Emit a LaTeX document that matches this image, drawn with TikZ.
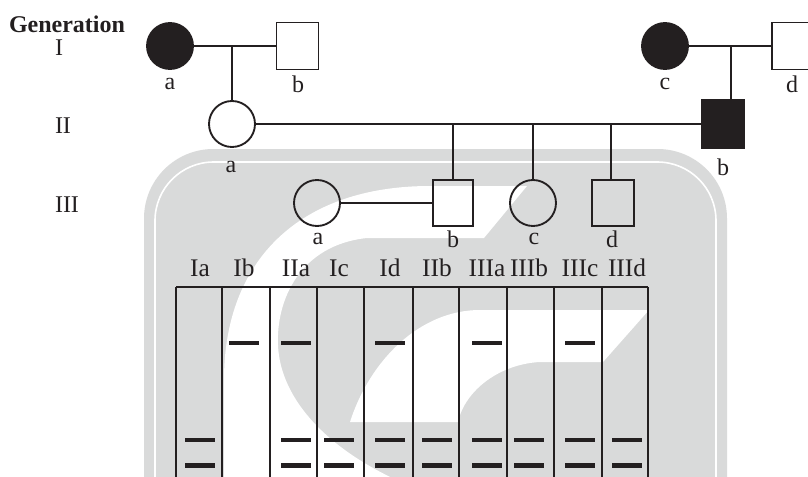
\documentclass[tikz,border=0pt]{standalone}
\usepackage{fontspec}
\setmainfont{Liberation Serif}
\definecolor{ink}{RGB}{35,31,32}
\definecolor{wm}{RGB}{217,218,218}
\begin{document}
\begin{tikzpicture}[x=0.75pt,y=-0.75pt,
  ped/.style={draw=ink,line width=1.4pt,inner sep=0pt,outer sep=0pt},
  fem/.style={ped,circle,minimum size=34.5pt},
  mal/.style={ped,rectangle,minimum width=31.5pt,minimum height=35.25pt},
  aff/.style={fill=ink},
  unaff/.style={fill=none},
  lbl/.style={font=\fontsize{18}{20}\selectfont,text=ink,inner sep=0pt,anchor=base},
  lanelbl/.style={font=\fontsize{19}{21}\selectfont,text=ink,inner sep=0pt,anchor=base},
  link/.style={draw=ink,line width=1.4pt},
  gel/.style={draw=ink,line width=1.5pt},
  band/.style={draw=ink,line width=3.6pt},
]
\useasboundingbox (0,0) rectangle (808,476);
% watermark
\fill[wm,rounded corners=52pt] (144,600) rectangle (727,149);
\draw[white,line width=1.2pt,rounded corners=44pt] (155,600) rectangle (716,162);
\fill[white] (224,490) -- (224,380) .. controls (224,260) and (300,186) .. (430,186) -- (527,186) -- (484,238) -- (367,238) .. controls (300,245) and (276,300) .. (278,345) .. controls (280,400) and (330,455) .. (420,490) -- cycle;
\fill[white] (350,422) .. controls (370,360) and (420,310) .. (480,310) -- (649,310) -- (603,362) -- (540,362) .. controls (500,364) and (465,390) .. (458,422) -- cycle;
% generation labels
\node[font=\bfseries\fontsize{18}{20}\selectfont,text=ink,inner sep=0pt,anchor=base] (gen) at (67,32) {Generation};
\node[lbl] (gI) at (59,55) {I};
\node[lbl] (gII) at (63,133) {II};
\node[lbl] (gIII) at (67,212) {III};
% generation I
\node[fem,aff] (Ia) at (170,46) {};
\node[mal,unaff] (Ib) at (297.5,46) {};
\node[fem,aff] (Ic) at (665,46) {};
\node[mal,unaff] (Id) at (793,46) {};
% generation II
\node[fem,unaff] (IIa) at (232,124) {};
\node[mal,aff,minimum height=36pt] (IIb) at (723,124) {};
% generation III
\node[fem,unaff] (IIIa) at (317,203) {};
\node[mal,unaff,minimum width=30pt,minimum height=34.5pt] (IIIb) at (453,203) {};
\node[fem,unaff] (IIIc) at (533,203) {};
\node[mal,unaff,minimum width=31.5pt,minimum height=34.5pt] (IIId) at (613,203) {};
% connectors
\draw[link] (Ia) -- (Ib);
\coordinate (m1) at (232,46);
\draw[link] (m1) -- (IIa);
\draw[link] (Ic) -- (Id);
\coordinate (m2) at (731,46);
\draw[link] (m2) -- (m2 |- IIb.north);
\draw[link] (IIa) -- (IIb);
\coordinate (c1) at (453,124);
\draw[link] (c1) -- (IIIb);
\coordinate (c2) at (533,124);
\draw[link] (c2) -- (IIIc);
\coordinate (c3) at (611,124);
\draw[link] (c3) -- (c3 |- IIId.north);
\draw[link] (IIIa) -- (IIIb);
% individual labels
\node[lbl] (tIa) at (170,89) {a};
\node[lbl] (tIb) at (298,92) {b};
\node[lbl] (tIc) at (665,89) {c};
\node[lbl] (tId) at (792,92) {d};
\node[lbl] (tIIa) at (231,172) {a};
\node[lbl] (tIIb) at (723,175) {b};
\node[lbl] (tIIIa) at (318,244) {a};
\node[lbl] (tIIIb) at (453,247) {b};
\node[lbl] (tIIIc) at (534,244) {c};
\node[lbl] (tIIId) at (612,247) {d};
% lane labels
\foreach \x/\t in {200/Ia,244/Ib,296/IIa,339/Ic,390/Id,437/IIb,487/IIIa,529/IIIb,580/IIIc,627/IIId}
  \node[lanelbl] (lane\t) at (\x,276) {\t};
% gel
\draw[gel] (176,287) -- (648,287);
\foreach \x in {176,222,270,317,364,413,459,507,554,602,648}
  \draw[gel] (\x,287) -- (\x,490);
\foreach \c in {244,296,390,487,580}
  \draw[band] (\c-15,343) -- (\c+15,343);
\foreach \c in {200,296,339,390,437,487,529,580,627} {
  \draw[band] (\c-15,440) -- (\c+15,440);
  \draw[band] (\c-15,465.5) -- (\c+15,465.5);
}
\end{tikzpicture}
\end{document}
